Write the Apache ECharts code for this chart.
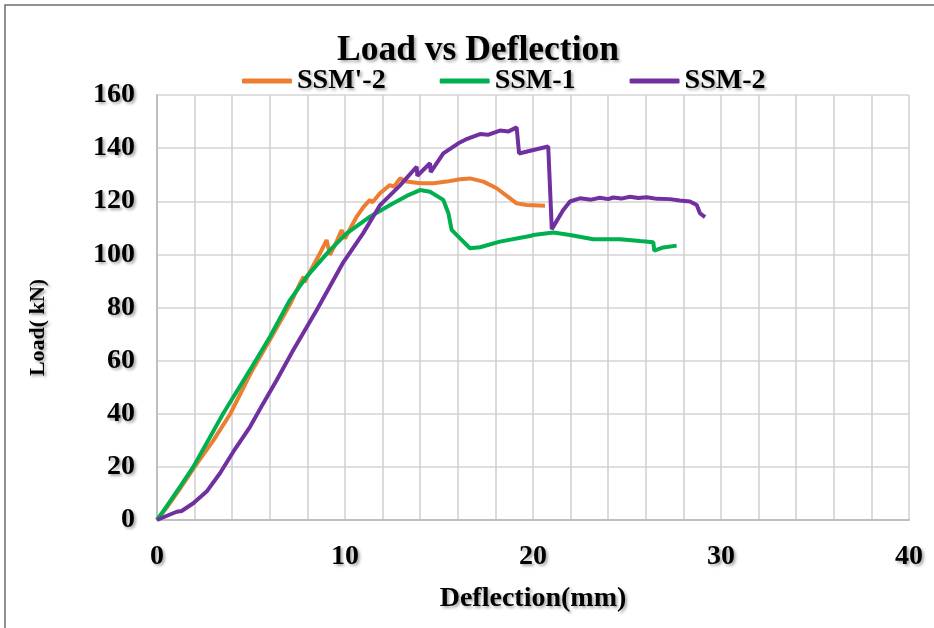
<!DOCTYPE html>
<html>
<head>
<meta charset="utf-8">
<script src="https://cdn.jsdelivr.net/npm/echarts@6/dist/echarts.min.js"></script>
<style>
html,body{margin:0;padding:0;background:#fff;}
#c{width:934px;height:628px;}
</style>
</head>
<body>
<div id="c"></div>
<script>
// ---- data ----
var seriesNames = ["SSM'-2", "SSM-1", "SSM-2"];
var xTickValues = [0, 10, 20, 30, 40];
var yTickValues = [0, 20, 40, 60, 80, 100, 120, 140, 160];

var ssmP2X = [0, 0.5, 1.2, 2.0, 3.0, 3.9, 5.0, 6.1, 7.1, 7.6, 7.8, 7.85, 8.1, 8.67, 9.02, 9.1, 9.2, 9.5, 9.82, 9.9, 10.0, 10.3, 10.62, 11.0, 11.33, 11.45, 11.86, 12.39, 12.6, 12.93, 13.28, 13.99, 14.7, 15.41, 16.12, 16.65, 17.36, 18.07, 18.78, 19.13, 19.66, 20.64];
var ssmP2Y = [0, 4.5, 11.5, 20, 30, 40, 55.5, 69, 81.5, 89, 91.6, 89.5, 93, 100.4, 105.4, 103, 99.8, 104, 109.2, 107.5, 106, 110, 114.2, 118, 120.5, 119.5, 123, 126.1, 125.5, 128.6, 127.4, 126.8, 126.8, 127.4, 128.3, 128.6, 127.4, 124.9, 121.1, 119.2, 118.6, 118.3];

var ssm1X = [0, 0.5, 1.22, 1.93, 3.53, 4.95, 6.01, 7.07, 7.96, 9.2, 10.09, 11.33, 12.4, 13.28, 13.99, 14.52, 15.23, 15.5, 15.67, 16.12, 16.65, 17.18, 18.24, 19.84, 20.02, 21.08, 21.97, 23.2, 24.63, 25.69, 26.4, 26.45, 26.55, 26.93, 27.64];
var ssm1Y = [0, 5, 12.5, 20, 40.2, 56.5, 69, 82.8, 91.6, 101.6, 107.9, 114.2, 118.6, 122, 124.2, 123.6, 120.5, 115.5, 109.2, 106, 102.3, 102.7, 104.8, 106.9, 107.3, 108.2, 107.3, 105.7, 105.7, 105, 104.6, 101.4, 101.6, 102.6, 103.3];

var ssm2X = [0, 0.5, 1.05, 1.31, 1.93, 2.64, 3.35, 4.06, 4.95, 5.65, 6.37, 7.25, 8.49, 9.91, 10.97, 11.86, 12.0, 12.93, 13.81, 13.85, 14.52, 14.56, 15.23, 16.03, 16.5, 17.18, 17.6, 18.24, 18.7, 19.13, 19.2, 19.26, 20.02, 20.81, 20.9, 21.0, 21.61, 21.97, 22.32, 22.5, 23.1, 23.56, 24.0, 24.27, 24.7, 25.16, 25.6, 26.05, 26.6, 27.29, 27.8, 28.35, 28.71, 28.88, 29.15];
var ssm2Y = [0, 1.5, 3.1, 3.4, 6.3, 10.7, 17.6, 25.7, 35.1, 43.9, 52.7, 64, 79, 97, 108, 118.5, 119.5, 126, 133, 129.6, 134.3, 131, 138, 141.8, 143.5, 145.3, 145, 146.6, 146.3, 147.8, 147.5, 138, 139.3, 140.6, 140.8, 109.5, 116.7, 119.9, 120.7, 121.1, 120.6, 121.3, 120.8, 121.4, 121.0, 121.7, 121.2, 121.5, 120.9, 120.8, 120.3, 119.9, 118.6, 115.5, 114];

function pairs(xs, ys) { return xs.map(function (x, i) { return [x, ys[i]]; }); }

var colors = ['#ED7D31', '#00B050', '#7030A0'];
var font = 'Liberation Serif';
var shadow = { textShadowColor: 'rgba(0,0,0,0.35)', textShadowBlur: 3, textShadowOffsetX: 2, textShadowOffsetY: 2 };
function txt(size) {
  return Object.assign({ fontFamily: font, fontWeight: 'bold', fontSize: size, color: '#000' }, shadow);
}

var chart = echarts.init(document.getElementById('c'), null, { renderer: 'canvas' });
var gridLine = { lineStyle: { color: '#d4d4d4', width: 1.5 } };

chart.setOption({
  animation: false,
  backgroundColor: '#fff',
  color: colors,
  graphic: [{
    type: 'rect', shape: { x: 5, y: 5, width: 940, height: 640 },
    style: { fill: 'none', stroke: '#6e6e6e', lineWidth: 1.5 }, silent: true, z: -10
  }],
  title: {
    text: 'Load vs Deflection', left: 332, top: 28,
    textStyle: txt(35.5)
  },
  legend: {
    data: seriesNames, left: 237, top: 62, itemWidth: 50, itemHeight: 5, itemGap: 54,
    icon: 'roundRect',
    textStyle: txt(28)
  },
  grid: { left: 157, right: 25, top: 95, bottom: 108, containLabel: false },
  xAxis: {
    type: 'value', min: 0, max: 40, interval: 10,
    name: 'Deflection(mm)', nameLocation: 'middle', nameGap: 65,
    nameTextStyle: txt(28),
    axisLine: { show: true, lineStyle: { color: '#bfbfbf', width: 2 } },
    axisTick: { show: false },
    axisLabel: Object.assign({ margin: 23, formatter: function (v) { return xTickValues.indexOf(v) >= 0 ? String(v) : ''; } }, txt(28)),
    splitLine: { show: true, lineStyle: { color: '#d0d0d0', width: 1.5 } },
    minorTick: { show: false, splitNumber: 5 },
    minorSplitLine: { show: true, lineStyle: { color: '#d0d0d0', width: 1.5 } }
  },
  yAxis: {
    type: 'value', min: 0, max: 160, interval: 20,
    name: 'Load( kN)', nameLocation: 'middle', nameGap: 108, nameRotate: 90,
    nameTextStyle: Object.assign({ padding: [0, 40, 0, 0] }, txt(22)),
    axisLine: { show: true, lineStyle: { color: '#bfbfbf', width: 2 } },
    axisTick: { show: false },
    axisLabel: Object.assign({ margin: 22, formatter: function (v) { return yTickValues.indexOf(v) >= 0 ? String(v) : ''; } }, txt(28)),
    splitLine: gridLine
  },
  series: [
    { name: seriesNames[0], type: 'line', data: pairs(ssmP2X, ssmP2Y), showSymbol: false, symbol: 'none', lineStyle: { width: 4, color: colors[0] }, itemStyle: { color: colors[0] } },
    { name: seriesNames[1], type: 'line', data: pairs(ssm1X, ssm1Y), showSymbol: false, symbol: 'none', lineStyle: { width: 4, color: colors[1] }, itemStyle: { color: colors[1] } },
    { name: seriesNames[2], type: 'line', data: pairs(ssm2X, ssm2Y), showSymbol: false, symbol: 'none', lineStyle: { width: 4, color: colors[2] }, itemStyle: { color: colors[2] } }
  ]
});
</script>
</body>
</html>
